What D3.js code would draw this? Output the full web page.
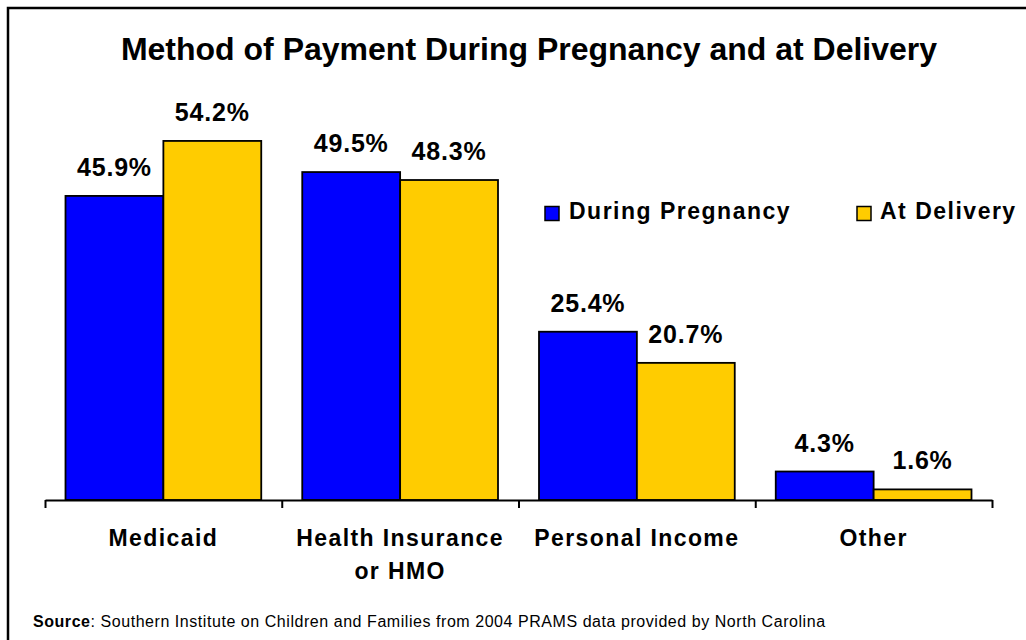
<!DOCTYPE html>
<html>
<head>
<meta charset="utf-8">
<script src="https://cdn.jsdelivr.net/npm/d3@7"></script>
<style>
  html, body { margin: 0; padding: 0; background: #fff; }
  svg { display: block; font-family: "Liberation Sans", Arial, sans-serif; }
</style>
</head>
<body>
<svg id="chart" width="1026" height="640"></svg>
<script>
// Payment method shares (%), 2004 PRAMS, North Carolina
const categories = ["Medicaid", "Health Insurance or HMO", "Personal Income", "Other"];
const categoryLines = [["Medicaid"], ["Health Insurance", "or HMO"], ["Personal Income"], ["Other"]];
const seriesNames = ["During Pregnancy", "At Delivery"];
const duringPregnancy = [45.9, 49.5, 25.4, 4.3];
const atDelivery = [54.2, 48.3, 20.7, 1.6];
const seriesColors = ["#0000FF", "#FFCC00"];

const svg = d3.select("#chart");
const W = 1026, H = 640;

// outer frame
svg.append("rect")
  .attr("x", 8).attr("y", 8)
  .attr("width", W + 20).attr("height", H + 20)
  .attr("fill", "#fff").attr("stroke", "#000").attr("stroke-width", 2.5);

// title
svg.append("text")
  .attr("x", 529).attr("y", 60)
  .attr("text-anchor", "middle")
  .attr("font-size", 32).attr("font-weight", "bold")
  .text("Method of Payment During Pregnancy and at Delivery");

const plotLeft = 45, plotRight = 992, baseY = 500, topY = 102.5;

const x0 = d3.scaleBand().domain(categories).range([plotLeft, plotRight]).padding(0);
const x1 = d3.scaleBand().domain(seriesNames)
  .range([20.5, x0.bandwidth() - 20.5]).padding(0);
const y = d3.scaleLinear().domain([0, 60]).range([baseY, topY]);

const rows = categories.map((c, i) => ({
  cat: c,
  values: [
    { s: seriesNames[0], v: duringPregnancy[i], color: seriesColors[0] },
    { s: seriesNames[1], v: atDelivery[i], color: seriesColors[1] }
  ]
}));

const groups = svg.append("g").selectAll("g")
  .data(rows).join("g")
  .attr("transform", d => `translate(${x0(d.cat)},0)`);

groups.selectAll("rect")
  .data(d => d.values).join("rect")
  .attr("x", d => x1(d.s))
  .attr("y", d => y(d.v))
  .attr("width", x1.bandwidth())
  .attr("height", d => y(0) - y(d.v))
  .attr("fill", d => d.color)
  .attr("stroke", "#000").attr("stroke-width", 1.8);

groups.selectAll("text.val")
  .data(d => d.values).join("text")
  .attr("class", "val")
  .attr("x", d => x1(d.s) + x1.bandwidth() / 2)
  .attr("y", d => y(d.v) - 20)
  .attr("text-anchor", "middle")
  .attr("font-size", 25).attr("font-weight", "bold")
  .attr("letter-spacing", 0.8)
  .text(d => d.v.toFixed(1) + "%");

// category axis with ticks at group boundaries
const xb = d3.scaleLinear().domain([0, categories.length]).range([plotLeft, plotRight]);
const axis = svg.append("g")
  .attr("transform", `translate(0,${baseY})`)
  .call(d3.axisBottom(xb)
    .tickValues(d3.range(categories.length + 1))
    .tickFormat("")
    .tickSize(8)
    .tickSizeOuter(0));
axis.selectAll("path, line").attr("stroke", "#000").attr("stroke-width", 2);

// category labels
const catLabels = svg.append("g").selectAll("text")
  .data(categories).join("text")
  .attr("x", d => x0(d) + x0.bandwidth() / 2)
  .attr("y", 546)
  .attr("text-anchor", "middle")
  .attr("font-size", 23).attr("font-weight", "bold")
  .attr("letter-spacing", 1.4);
catLabels.each(function (d, i) {
  d3.select(this).selectAll("tspan")
    .data(categoryLines[i]).join("tspan")
    .attr("x", x0(d) + x0.bandwidth() / 2)
    .attr("dy", (t, j) => j === 0 ? 0 : 33)
    .text(t => t);
});

// legend
const legendPos = [{ sx: 545, tx: 569 }, { sx: 857, tx: 880 }];
const legend = svg.append("g").selectAll("g")
  .data(seriesNames).join("g");
legend.append("rect")
  .attr("x", (d, i) => legendPos[i].sx).attr("y", 206.5)
  .attr("width", 14).attr("height", 14)
  .attr("fill", (d, i) => seriesColors[i])
  .attr("stroke", "#000").attr("stroke-width", 1.5);
legend.append("text")
  .attr("x", (d, i) => legendPos[i].tx).attr("y", 218.5)
  .attr("font-size", 23).attr("font-weight", "bold")
  .attr("letter-spacing", 1.5)
  .text(d => d);

// source note
const src = svg.append("text")
  .attr("x", 33).attr("y", 627)
  .attr("font-size", 16).attr("letter-spacing", 0.55);
src.append("tspan").attr("font-weight", "bold").text("Source");
src.append("tspan").text(": Southern Institute on Children and Families from 2004 PRAMS data provided by North Carolina");
</script>
</body>
</html>
